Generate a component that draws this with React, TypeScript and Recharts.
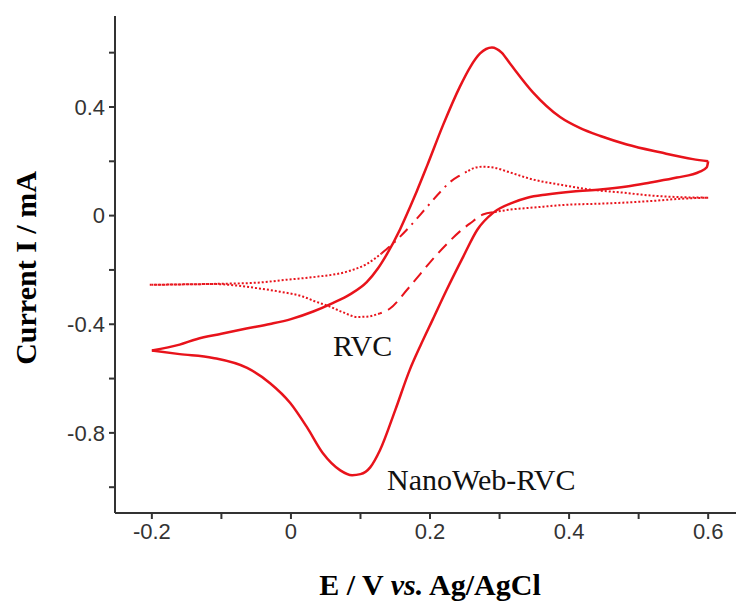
import { Label, Line, LineChart, XAxis, YAxis } from "recharts";

type Pt = { x: number; y: number };
const pts = (a: number[][]): Pt[] => a.map(([x, y]) => ({ x, y }));

// NanoWeb-RVC, anodic sweep (-0.2 -> 0.6)
const nanoUp = pts([
  [-0.2, -0.497], [-0.16, -0.475], [-0.136, -0.455], [-0.1, -0.435],
  [-0.064, -0.416], [-0.03, -0.399], [0.0, -0.381], [0.032, -0.353],
  [0.06, -0.322], [0.085, -0.29], [0.109, -0.245], [0.125, -0.195],
  [0.138, -0.142], [0.157, -0.05], [0.171, 0.03], [0.181, 0.09],
  [0.196, 0.185], [0.219, 0.335], [0.243, 0.475], [0.258, 0.548],
  [0.272, 0.597], [0.289, 0.619], [0.303, 0.6], [0.315, 0.56],
  [0.348, 0.454], [0.387, 0.363], [0.416, 0.322], [0.445, 0.293],
  [0.483, 0.262], [0.531, 0.233], [0.578, 0.208], [0.6, 0.2],
]);

// NanoWeb-RVC, cathodic sweep (0.6 -> -0.2)
const nanoDown = pts([
  [0.6, 0.2], [0.598, 0.178], [0.588, 0.162], [0.555, 0.14],
  [0.517, 0.122], [0.483, 0.107], [0.445, 0.096], [0.406, 0.089],
  [0.368, 0.078], [0.34, 0.066], [0.319, 0.048], [0.291, 0.011],
  [0.268, -0.052], [0.248, -0.15], [0.224, -0.273], [0.204, -0.382],
  [0.186, -0.48], [0.171, -0.567], [0.15, -0.716], [0.128, -0.864],
  [0.114, -0.927], [0.1, -0.952], [0.088, -0.956], [0.071, -0.938],
  [0.046, -0.875], [0.023, -0.779], [-0.001, -0.69], [-0.03, -0.617],
  [-0.063, -0.561], [-0.112, -0.524], [-0.16, -0.51], [-0.2, -0.497],
]);

// bare RVC, anodic sweep: dotted / dash-dot / dotted
const rvcUpA = pts([
  [-0.203, -0.255], [-0.15, -0.253], [-0.102, -0.251], [-0.049, -0.247],
  [-0.006, -0.236], [0.037, -0.225], [0.081, -0.206], [0.109, -0.178],
  [0.13, -0.14],
]);
const rvcUpB = pts([
  [0.13, -0.14], [0.142, -0.114], [0.171, -0.04], [0.195, 0.03],
  [0.214, 0.085], [0.229, 0.124], [0.243, 0.148], [0.255, 0.165],
]);
const rvcUpC = pts([
  [0.255, 0.165], [0.262, 0.174], [0.275, 0.18], [0.291, 0.177],
  [0.315, 0.159], [0.348, 0.133], [0.387, 0.114], [0.43, 0.096],
  [0.48, 0.084], [0.517, 0.074], [0.56, 0.068], [0.6, 0.066],
]);

// bare RVC, cathodic sweep: dotted / dashed / dotted
const rvcDnA = pts([
  [0.6, 0.066], [0.56, 0.062], [0.52, 0.054], [0.48, 0.048],
  [0.445, 0.044], [0.397, 0.04], [0.35, 0.03], [0.315, 0.022],
  [0.29, 0.012],
]);
const rvcDnB = pts([
  [0.29, 0.012], [0.276, 0.004], [0.258, -0.028], [0.243, -0.058],
  [0.224, -0.105], [0.204, -0.16], [0.185, -0.218], [0.167, -0.273],
  [0.142, -0.343], [0.128, -0.36],
]);
const rvcDnC = pts([
  [0.128, -0.36], [0.109, -0.372], [0.095, -0.373], [0.075, -0.356],
  [0.056, -0.335], [0.035, -0.316], [0.017, -0.298], [-0.016, -0.28],
  [-0.049, -0.267], [-0.08, -0.257], [-0.11, -0.252], [-0.15, -0.253],
  [-0.2, -0.255],
]);

const xTicks = [-0.2, -0.1, 0, 0.1, 0.2, 0.3, 0.4, 0.5, 0.6];
const yTicks = [-1.0, -0.8, -0.6, -0.4, -0.2, 0, 0.2, 0.4, 0.6];

const RED = "#e8131b";
const AXIS = "#333";
const tickStyle = { fill: AXIS, fontSize: 22, fontFamily: "Liberation Sans, Arial, sans-serif" };
const serif = "Liberation Serif, Times New Roman, serif";

const fmt = (v: number) => (Math.abs(v) < 1e-9 ? "0" : String(Math.round(v * 10) / 10));
const xFmt = (v: number) => (Math.round(v * 10) % 2 === 0 ? fmt(v) : "");
const yFmt = (v: number) => (Math.round(v * 10) % 4 === 0 ? fmt(v) : "");

const series = [
  { id: "nanoUp", data: nanoUp, dash: undefined, w: 2.5 },
  { id: "nanoDown", data: nanoDown, dash: undefined, w: 2.5 },
  { id: "rvcUpA", data: rvcUpA, dash: "2 2", w: 2 },
  { id: "rvcUpB", data: rvcUpB, dash: "11 6 2 6", w: 2 },
  { id: "rvcUpC", data: rvcUpC, dash: "2 2", w: 2 },
  { id: "rvcDnA", data: rvcDnA, dash: "2 2", w: 2 },
  { id: "rvcDnB", data: rvcDnB, dash: "12 7", w: 2 },
  { id: "rvcDnC", data: rvcDnC, dash: "2 2", w: 2 },
];

export default function App() {
  return (
    <div style={{ position: "absolute", left: 0, top: 0, width: 738, height: 605, background: "#fff" }}>
      <LineChart width={738} height={605} margin={{ top: 16, right: 2, left: 0, bottom: 0 }}>
        <XAxis
          dataKey="x"
          type="number"
          domain={[-0.253, 0.64]}
          allowDataOverflow
          ticks={xTicks}
          interval={0}
          tickFormatter={xFmt}
          height={92}
          tick={tickStyle}
          tickSize={6}
          tickMargin={4}
          stroke={AXIS}
          strokeWidth={2}
        >
          <Label
            content={() => (
              <text x={430} y={595} textAnchor="middle" fontFamily={serif} fontSize={30} fontWeight="bold" fill="#000">
                E / V <tspan fontStyle="italic">vs.</tspan> Ag/AgCl
              </text>
            )}
          />
        </XAxis>
        <YAxis
          dataKey="y"
          type="number"
          domain={[-1.095, 0.735]}
          allowDataOverflow
          ticks={yTicks}
          interval={0}
          tickFormatter={yFmt}
          width={115}
          tick={tickStyle}
          tickSize={6}
          tickMargin={4}
          stroke={AXIS}
          strokeWidth={2}
        >
          <Label
            content={() => (
              <text
                x={36}
                y={268}
                transform="rotate(-90 36 268)"
                textAnchor="middle"
                fontFamily={serif}
                fontSize={30}
                fontWeight="bold"
                fill="#000"
              >
                Current I / mA
              </text>
            )}
          />
        </YAxis>
        {series.map((s) => (
          <Line
            key={s.id}
            data={s.data}
            dataKey="y"
            type="monotone"
            stroke={RED}
            strokeWidth={s.w}
            strokeDasharray={s.dash}
            dot={false}
            activeDot={false}
            isAnimationActive={false}
          />
        ))}
      </LineChart>
      <div style={{ position: "absolute", left: 333, top: 330, fontFamily: serif, fontSize: 30, lineHeight: "32px", color: "#111" }}>
        RVC
      </div>
      <div style={{ position: "absolute", left: 387, top: 464, fontFamily: serif, fontSize: 30, lineHeight: "32px", color: "#111" }}>
        NanoWeb-RVC
      </div>
    </div>
  );
}
